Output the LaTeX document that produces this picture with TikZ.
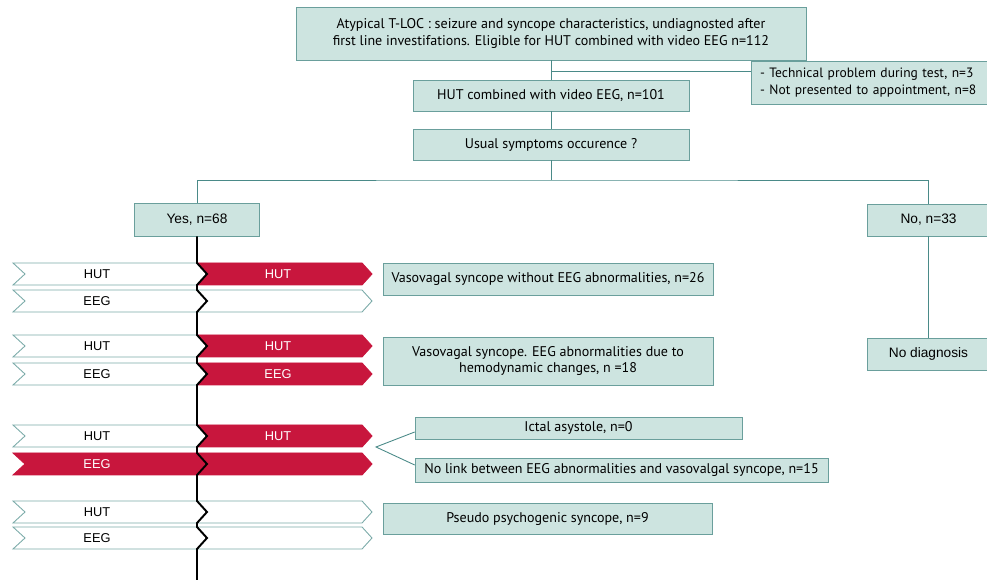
\documentclass[tikz,border=0pt]{standalone}
\usepackage{fontspec}
\setmainfont{PT Sans}
\newfontfamily\arialfont{Liberation Sans}
\usetikzlibrary{calc}
\definecolor{boxfill}{HTML}{CDE4E0}
\definecolor{boxline}{HTML}{6A9F9C}
\definecolor{linkline}{HTML}{4A8A88}
\definecolor{hutred}{HTML}{C8163D}
\definecolor{barline}{HTML}{7AAAA8}

\begin{document}
\begin{tikzpicture}[x=0.02cm, y=-0.02cm,
    box/.style={draw=boxline, fill=boxfill, inner sep=1pt, align=center, font=\fontsize{8}{9.6}\selectfont},
    abox/.style={box, font=\arialfont\fontsize{7.8}{9}\selectfont},
    link/.style={draw=linkline, line width=0.5pt},
    wbar/.style={fill=white, draw=barline, line width=0.5pt},
    rbar/.style={fill=hutred, draw=hutred, line width=0.5pt},
    wtxt/.style={text=black, font=\arialfont\fontsize{7.3}{8}\selectfont},
    rtxt/.style={text=white, font=\arialfont\fontsize{7.3}{8}\selectfont}]
  \useasboundingbox (0,0) rectangle (987,580);

  \node[box, minimum width=10.2cm, minimum height=1.06cm] (top) at (551,33.5)
    {Atypical T-LOC : seizure and syncope characteristics, undiagnosted after\\first line investifations. Eligible for HUT combined with video EEG n=112};
  \node[box, text width=4.84cm, inner xsep=0.18cm, minimum height=0.86cm, align=left,
    font=\fontsize{7.7}{9.6}\selectfont] (excl) at (881,82.5)
    {- Technical problem during test, n=3\\- Not presented to appointment, n=8};
  \node[box, minimum width=5.52cm, minimum height=0.62cm] (hut) at (551,95.5) {HUT combined with video EEG, n=101};
  \node[box, minimum width=5.52cm, minimum height=0.62cm] (usual) at (551,144.5) {Usual symptoms occurence ?};
  \node[abox, minimum width=2.5cm, minimum height=0.66cm] (yes) at (197,219.5) {Yes, n=68};
  \node[abox, minimum width=2.46cm, minimum height=0.64cm] (no) at (928.5,220) {No, n=33};
  \node[abox, minimum width=2.46cm, minimum height=0.64cm] (nodiag) at (928.5,354) {No diagnosis};
  \node[box, minimum width=6.6cm, minimum height=0.64cm] (vv1) at (548,279) {Vasovagal syncope without EEG abnormalities, n=26};
  \node[box, minimum width=6.6cm, minimum height=0.96cm] (vv2) at (548,361)
    {Vasovagal syncope. EEG abnormalities due to\\hemodynamic changes, n =18};
  \node[box, minimum width=6.54cm, minimum height=0.44cm] (ictal) at (578.5,428) {Ictal asystole, n=0};
  \node[box, minimum width=8.26cm, minimum height=0.48cm] (nolink) at (621.5,470)
    {No link between EEG abnormalities and vasovalgal syncope, n=15};
  \node[box, minimum width=6.58cm, minimum height=0.62cm] (pseudo) at (547.5,518.5) {Pseudo psychogenic syncope, n=9};

  \draw[link] (top) -- (hut);
  \coordinate (j1) at (551,71);
  \draw[link] (j1) -- (j1 -| excl.west);
  \draw[link] (hut) -- (usual);
  \coordinate (j2) at (551,180);
  \draw[link] (usual) -- (j2);
  \draw[link] (yes) |- (j2) -| (no);
  \draw[link] (no) -- (nodiag);
  \coordinate (fk) at (376,447);
  \draw[link] ($(ictal.west)+(0,4)$) -- (fk) -- ($(nolink.west)+(0,-5)$);

  \foreach \t/\lab/\lc/\rc/\rlab in {263/HUT/w/r/HUT, 290/EEG/w/w/{}, 335/HUT/w/r/HUT, 363/EEG/w/r/EEG,
      425/HUT/w/r/HUT, 453/EEG/r/r/{}, 501/HUT/w/w/{}, 527/EEG/w/w/{}}{
    \draw[\lc bar] (13,\t) -- (197,\t) -- (207,\t+11) -- (197,\t+22) -- (13,\t+22) -- (25,\t+11) -- cycle;
    \draw[\rc bar] (197,\t) -- (362,\t) -- (372,\t+11) -- (362,\t+22) -- (197,\t+22) -- (207,\t+11) -- cycle;
    \node[\lc txt] (l\t) at (97,\t+11) {\lab};
    \node[rtxt] (r\t) at (278,\t+11) {\rlab};
  }
  \draw[line width=1.1pt] (yes.south) foreach \t in {263,290,335,363,425,453,501,527}{
    -- (197,\t) -- (207,\t+11) -- (197,\t+22)} -- (197,580);
\end{tikzpicture}
\end{document}
